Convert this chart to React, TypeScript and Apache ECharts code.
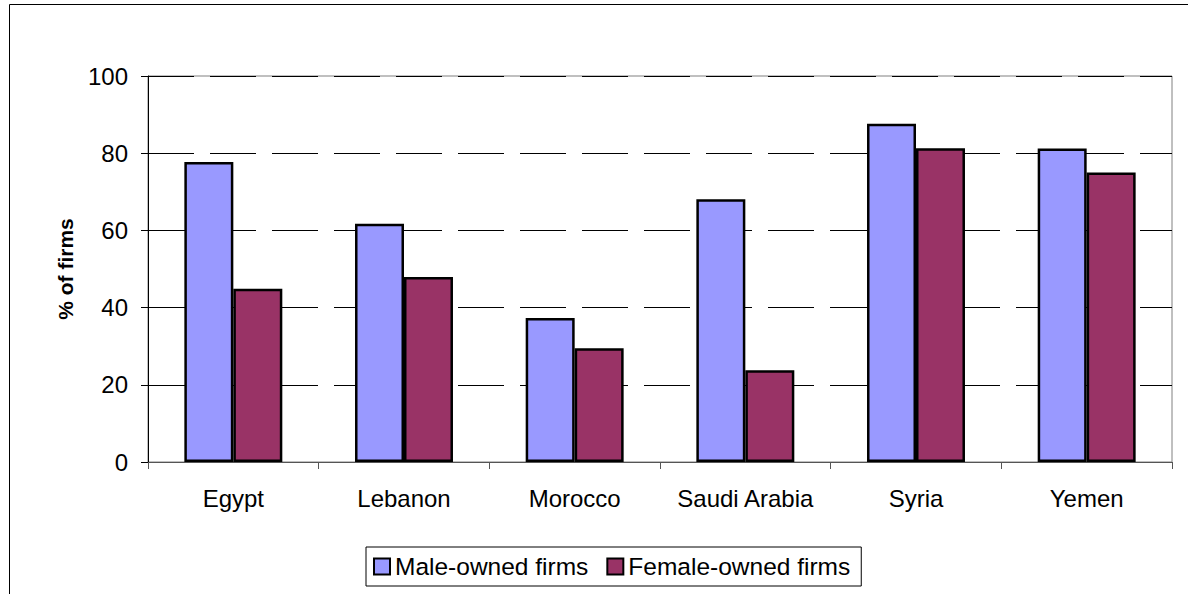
import React, { useEffect, useRef } from "react";
import * as echarts from "echarts";

const categories = ["Egypt", "Lebanon", "Morocco", "Saudi Arabia", "Syria", "Yemen"];
const maleOwned = [77.7, 61.7, 37.3, 68.1, 87.6, 81.2];
const femaleOwned = [44.9, 47.9, 29.5, 23.8, 81.3, 75.0];
const seriesNames = ["Male-owned firms", "Female-owned firms"];
const yAxisName = "% of firms";

const FONT = "Arial, 'Liberation Sans', sans-serif";

export default function App() {
  const ref = useRef<HTMLDivElement>(null);
  useEffect(() => {
    if (!ref.current) return;
    const chart = echarts.init(ref.current, undefined, { renderer: "svg" });
    chart.setOption({
      animation: false,
      backgroundColor: "#ffffff",
      textStyle: { fontFamily: FONT },
      graphic: [
        {
          type: "rect",
          shape: { x: 9.5, y: 4.5, width: 2000, height: 2000 },
          style: { fill: "none", stroke: "#000", lineWidth: 1 },
          silent: true,
          z: -1,
        },
      ],
      grid: {
        left: 148,
        top: 76,
        width: 1024,
        height: 386,
        show: true,
        borderColor: "#808080",
        borderWidth: 1,
        backgroundColor: "transparent",
      },
      legend: {
        left: 366,
        top: 547,
        data: seriesNames,
        icon: "rect",
        itemWidth: 16,
        itemHeight: 16,
        itemGap: 18,
        padding: [7, 11, 7, 7],
        borderColor: "#000",
        borderWidth: 1,
        itemStyle: { borderColor: "#000", borderWidth: 2 },
        textStyle: { fontSize: 24.5, color: "#000", fontFamily: FONT },
      },
      xAxis: {
        type: "category",
        data: categories,
        axisLine: { show: true, lineStyle: { color: "#555", width: 1 } },
        axisTick: { show: true, interval: 0, length: 7, alignWithLabel: false, lineStyle: { color: "#555" } },
        axisLabel: { interval: 0, fontSize: 24, color: "#000", margin: 24, fontFamily: FONT },
        splitLine: { show: false },
      },
      yAxis: {
        type: "value",
        min: 0,
        max: 100,
        interval: 20,
        name: yAxisName,
        nameLocation: "middle",
        nameGap: 72,
        nameRotate: 90,
        nameTextStyle: { fontSize: 21, fontWeight: "bold", color: "#000", fontFamily: FONT },
        axisLine: { show: true, lineStyle: { color: "#000", width: 1 } },
        axisTick: { show: true, length: 7, lineStyle: { color: "#000" } },
        axisLabel: { fontSize: 24, color: "#000", margin: 20, fontFamily: FONT },
        splitLine: { show: true, lineStyle: { color: "#000", width: 1, type: [46, 16] } },
      },
      series: [
        {
          name: seriesNames[0],
          type: "bar",
          data: maleOwned,
          barGap: "0%",
          barCategoryGap: "42.6%",
          itemStyle: { color: "#9999FF", borderColor: "#000", borderWidth: 2.5 },
        },
        {
          name: seriesNames[1],
          type: "bar",
          data: femaleOwned,
          barGap: "0%",
          barCategoryGap: "42.6%",
          itemStyle: { color: "#993366", borderColor: "#000", borderWidth: 2.5 },
        },
      ],
    });
    return () => chart.dispose();
  }, []);
  return (
    <div
      ref={ref}
      style={{ position: "fixed", left: 0, top: 0, width: 1188, height: 594 }}
    />
  );
}
